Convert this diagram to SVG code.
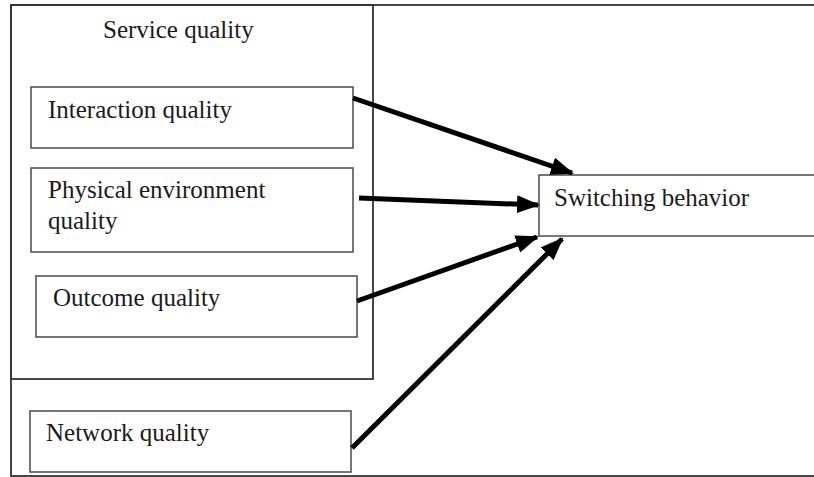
<svg xmlns="http://www.w3.org/2000/svg" width="814" height="477" viewBox="0 0 814 477">
<style>
.box{fill:#fff;stroke:#555;stroke-width:1.6}
.frame{fill:none;stroke:#333;stroke-width:1.8}
text{font-family:"Liberation Serif","Times New Roman",serif;font-size:25px;fill:#1a1a1a}
.conn{stroke:#000;stroke-width:5;fill:none;marker-end:url(#ah)}
</style>
<defs>
<marker id="ah" markerWidth="4.6" markerHeight="3.6" refX="4.2" refY="1.8" orient="auto" markerUnits="strokeWidth">
<path d="M0,0 L4.6,1.8 L0,3.6 Z" fill="#000"/>
</marker>
</defs>
<rect width="814" height="477" fill="#fff"/>
<g id="frame">
<rect class="frame" x="11" y="5" width="820" height="471"/>
</g>
<g id="service-quality">
<rect class="frame" x="11" y="5" width="362" height="374" stroke="#444" stroke-width="1.4"/>
<text x="103" y="38">Service quality</text>
</g>
<g id="interaction-quality">
<rect class="box" x="31" y="87" width="322" height="61"/>
<text x="48" y="118">Interaction quality</text>
</g>
<g id="physical-environment-quality">
<rect class="box" x="31" y="168" width="322" height="84"/>
<text x="48" y="198">Physical environment</text>
<text x="48" y="229">quality</text>
</g>
<g id="outcome-quality">
<rect class="box" x="36" y="276" width="321" height="61"/>
<text x="53" y="306">Outcome quality</text>
</g>
<g id="network-quality">
<rect class="box" x="30" y="411" width="321" height="61"/>
<text x="46" y="441">Network quality</text>
</g>
<g id="switching-behavior">
<rect class="box" x="539" y="175" width="290" height="61"/>
<text x="554" y="206">Switching behavior</text>
</g>
<g id="connectors">
<line class="conn" x1="353" y1="98" x2="572" y2="173"/>
<line class="conn" x1="359" y1="198" x2="538" y2="205"/>
<line class="conn" x1="357" y1="301" x2="537" y2="237"/>
<line class="conn" x1="352" y1="448" x2="562" y2="239"/>
</g>
</svg>
